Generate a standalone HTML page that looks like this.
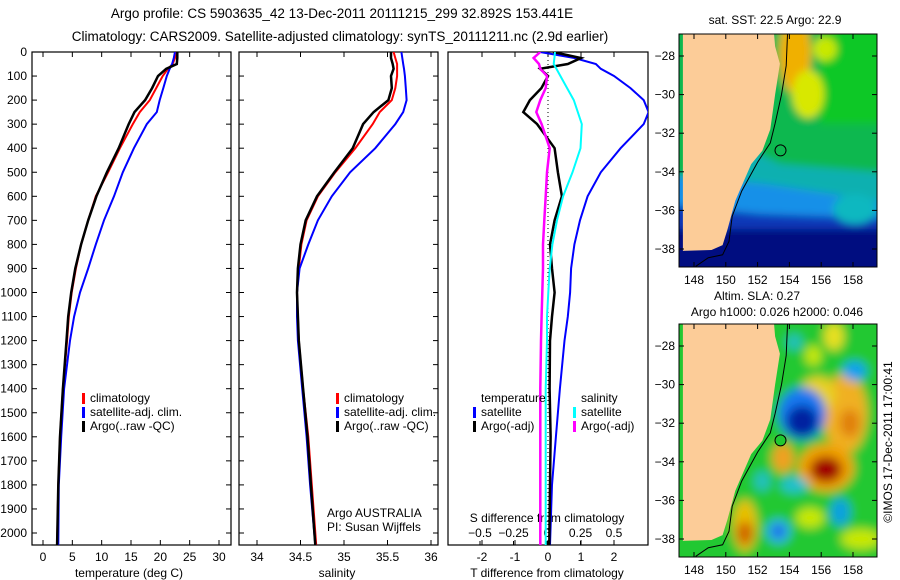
<!DOCTYPE html>
<html><head><meta charset="utf-8"><style>
html,body{margin:0;padding:0;background:#fff}
svg{display:block;font-family:"Liberation Sans",sans-serif}
text{font-size:12px;fill:#000}
</style></head><body>
<svg id="c" width="900" height="580" viewBox="0 0 900 580">
<defs>
<filter id="bl" x="-20%" y="-20%" width="140%" height="140%"><feGaussianBlur stdDeviation="5"/></filter>
<filter id="bl2" x="-20%" y="-20%" width="140%" height="140%"><feGaussianBlur stdDeviation="4"/></filter>
<clipPath id="m1"><rect x="679" y="34" width="198" height="233"/></clipPath>
<clipPath id="m2"><rect x="679" y="324" width="198" height="233"/></clipPath>
<clipPath id="p1"><rect x="32" y="52" width="199" height="493"/></clipPath>
<clipPath id="p2"><rect x="239" y="52" width="199" height="493"/></clipPath>
<clipPath id="p3"><rect x="448" y="52" width="200" height="493"/></clipPath>
</defs>
<text x="342" y="18" text-anchor="middle" style="font-size:13.5px">Argo profile: CS 5903635_42 13-Dec-2011 20111215_299 32.892S 153.441E</text>
<text x="340" y="41" text-anchor="middle" style="font-size:13.5px">Climatology: CARS2009. Satellite-adjusted climatology: synTS_20111211.nc (2.9d earlier)</text>
<g id="g"></g>
</svg>
<script>
const depths=[0,25,50,70,100,150,200,250,300,400,500,600,700,800,900,1000,1100,1200,1400,1600,1800,2050];
const tempClim=[22.7,22.5,22.1,21.3,20.4,19.3,18.2,16.5,15.3,13.1,11.1,9.0,7.7,6.5,5.6,4.9,4.4,4.1,3.4,2.9,2.6,2.4];
const tempSat=[22.5,22.3,22.0,21.6,21.1,20.5,19.9,19.4,17.7,15.5,13.6,12.1,10.4,9.0,7.7,6.3,5.3,4.6,3.6,3.1,2.7,2.6];
const tempArgo=[22.9,22.9,22.8,21.0,19.6,18.6,17.4,15.6,14.6,12.9,10.9,9.1,7.7,6.5,5.5,4.8,4.3,4.0,3.4,2.9,2.6,2.4];
const salClim=[35.57,35.59,35.61,35.61,35.61,35.59,35.55,35.41,35.33,35.13,34.90,34.70,34.57,34.51,34.48,34.46,34.47,34.48,34.53,34.59,34.63,34.68];
const salSat=[35.66,35.67,35.68,35.69,35.70,35.71,35.72,35.68,35.59,35.36,35.07,34.86,34.70,34.59,34.49,34.46,34.46,34.47,34.52,34.57,34.61,34.67];
const salArgo=[35.54,35.54,35.56,35.57,35.54,35.55,35.51,35.34,35.22,35.10,34.89,34.69,34.56,34.50,34.47,34.46,34.47,34.48,34.53,34.58,34.62,34.67];
const tDiffSat=[-0.24,0.8,1.45,1.6,2.0,2.5,2.9,3.05,2.9,2.2,1.6,1.2,0.97,0.8,0.7,0.67,0.6,0.5,0.36,0.24,0.12,0.06];
const tDiffArgo=[0.15,1.0,0.6,-0.24,0.0,-0.2,-0.55,-0.75,-0.33,0.2,0.3,0.42,0.2,0.06,0.12,0.2,0.12,0.06,0.05,0.08,0.06,0.04];
const sDiffSat=[0.06,0.055,0.05,0.07,0.1,0.15,0.2,0.23,0.26,0.25,0.19,0.12,0.075,0.04,0.02,0.01,0.0,0.0,-0.01,-0.01,-0.01,-0.01];
const sDiffArgo=[-0.05,-0.1,-0.06,-0.05,0.0,-0.01,-0.05,-0.08,-0.04,0.02,0.0,-0.01,-0.02,-0.03,-0.03,-0.035,-0.04,-0.045,-0.05,-0.05,-0.05,-0.05];
const depthTicks=[0,100,200,300,400,500,600,700,800,900,1000,1100,1200,1300,1400,1500,1600,1700,1800,1900,2000];
const tempTicks=[0,5,10,15,20,25,30];
const salTicks=[34,34.5,35,35.5,36];
const tdTicks=[-2,-1,0,1,2];
const sdTicks=[-0.5,-0.25,0,0.25,0.5];
const latTicks=[-28,-30,-32,-34,-36,-38];
const lonTicks=[148,150,152,154,156,158];

const NS='http://www.w3.org/2000/svg';
const G=document.getElementById('g');
function el(tag,attrs,parent){const e=document.createElementNS(NS,tag);for(const k in attrs)e.setAttribute(k,attrs[k]);(parent||G).appendChild(e);return e;}
function txt(x,y,s,anchor,parent,size){const t=el('text',{x:x,y:y,'text-anchor':anchor||'start'},parent);if(size)t.style.fontSize=size+'px';t.textContent=s;return t;}
const yD=d=>52+d*0.2405;
function lin(d0,d1,r0,r1){return v=>r0+(v-d0)/(d1-d0)*(r1-r0);}
const xT=lin(0,30,43,219), xS=lin(34,36,257,431), xTD=lin(0,1,548,581), xSD=lin(0,0.5,547,614);

function panel(x0,name){
  const f=el('rect',{x:x0,y:52,width:199,height:493,fill:'none',stroke:'#000','stroke-width':1.2});
  
  
  depthTicks.forEach(d=>{el('line',{x1:x0,x2:x0+5,y1:yD(d),y2:yD(d),stroke:'#000'});el('line',{x1:x0+199,x2:x0+194,y1:yD(d),y2:yD(d),stroke:'#000'});});
}
panel(32,'temperature-panel');panel(239,'salinity-panel');
const f3=el('rect',{x:448,y:52,width:200,height:493,fill:'none',stroke:'#000','stroke-width':1.2});


depthTicks.forEach(d=>{
  const t=txt(27,yD(d)+4,String(d),'end');
  
  
});
tempTicks.forEach(v=>{el('line',{x1:xT(v),x2:xT(v),y1:545,y2:540,stroke:'#000'});el('line',{x1:xT(v),x2:xT(v),y1:52,y2:57,stroke:'#000'});txt(xT(v),561,String(v),'middle');});
salTicks.forEach(v=>{el('line',{x1:xS(v),x2:xS(v),y1:545,y2:540,stroke:'#000'});el('line',{x1:xS(v),x2:xS(v),y1:52,y2:57,stroke:'#000'});txt(xS(v),561,String(v),'middle');});
tdTicks.forEach(v=>{el('line',{x1:xTD(v),x2:xTD(v),y1:545,y2:540,stroke:'#000'});el('line',{x1:xTD(v),x2:xTD(v),y1:52,y2:57,stroke:'#000'});txt(xTD(v),561,String(v),'middle');});
sdTicks.forEach(v=>{el('line',{x1:xSD(v),x2:xSD(v),y1:541,y2:545,stroke:'#000'});txt(xSD(v),537,String(v).replace('-','−'),'middle');});
let t;
t=txt(129,577,'temperature (deg C)','middle');
t=txt(337,577,'salinity','middle');
t=txt(547,577,'T difference from climatology','middle');
t=txt(547,522,'S difference from climatology','middle');
el('line',{x1:548,x2:548,y1:52,y2:545,stroke:'#000','stroke-dasharray':'1,3'});

function series(arr,xf,color,clip,name,w){
  const p=el('polyline',{points:arr.map((v,i)=>xf(v).toFixed(1)+','+yD(depths[i]).toFixed(1)).join(' '),fill:'none',stroke:color,'stroke-width':w||2,'clip-path':'url(#'+clip+')'});
  
  
}
series(tempClim,xT,'#f00','p1','temp-climatology-line');
series(tempSat,xT,'#00f','p1','temp-satellite-line');
series(tempArgo,xT,'#000','p1','temp-argo-line',2.5);
series(salClim,xS,'#f00','p2','sal-climatology-line');
series(salSat,xS,'#00f','p2','sal-satellite-line');
series(salArgo,xS,'#000','p2','sal-argo-line',2.5);
series(tDiffSat,xTD,'#00f','p3','t-diff-satellite-line');
series(tDiffArgo,xTD,'#000','p3','t-diff-argo-line',2.5);
series(sDiffSat,xSD,'#0ff','p3','s-diff-satellite-line');
series(sDiffArgo,xSD,'#f0f','p3','s-diff-argo-line',2.5);

function legend(x,y,items,name){
  items.forEach((it,i)=>{
    el('rect',{x:x,y:y+i*14-9,width:3,height:11,fill:it[1]});
    const tt=txt(x+8,y+i*14,it[0]);
    
    
  });
}
legend(82,402,[['climatology','#f00'],['satellite-adj. clim.','#00f'],['Argo(..raw -QC)','#000']],'temp-legend');
legend(336,402,[['climatology','#f00'],['satellite-adj. clim.','#00f'],['Argo(..raw -QC)','#000']],'sal-legend');
txt(481,402,'temperature');legend(473,416,[['satellite','#00f'],['Argo(-adj)','#000']],'tdiff-legend');
txt(581,402,'salinity');legend(573,416,[['satellite','#0ff'],['Argo(-adj)','#f0f']],'sdiff-legend');
txt(327,517,'Argo AUSTRALIA');txt(327,531,'PI: Susan Wijffels');

// maps
const mx=lon=>694+(lon-148)*15.9;
function map(top,clip,name,kind){
  const my=lat=>top+22+(-28-lat)*19.3;
  const g=el('g',{'clip-path':'url(#'+clip+')'});
  
  
  const fg=el('g',{filter:'url(#'+(kind==1?'bl2':'bl')+')'},g);
  if(kind==1){
    el('rect',{x:660,y:top-20,width:240,height:280,fill:'#10b850'},fg);
    el('rect',{x:820,y:top-20,width:80,height:110,fill:'#10c828'},fg);
    el('polygon',{points:`740,${top+110} 780,${top+130} 900,${top+140} 900,${top+280} 660,${top+280}`,fill:'#10b0b0'},fg);
    el('polygon',{points:`660,${top+140} 765,${top+150} 900,${top+170} 900,${top+280} 660,${top+280}`,fill:'#1890e8'},fg);
    el('polygon',{points:`660,${top+170} 760,${top+180} 900,${top+185} 900,${top+280} 660,${top+280}`,fill:'#0838b8'},fg);
    el('rect',{x:660,y:top+195,width:240,height:80,fill:'#000c80'},fg);
    el('ellipse',{cx:795,cy:top+20,rx:16,ry:40,fill:'#f0b000'},fg);
    el('ellipse',{cx:808,cy:top+60,rx:16,ry:24,fill:'#d8e800'},fg);
    el('ellipse',{cx:825,cy:top+15,rx:12,ry:12,fill:'#c8e800'},fg);
    el('ellipse',{cx:855,cy:top+175,rx:22,ry:15,fill:'#10b8c0'},fg);
  }else{
    el('rect',{x:660,y:top-20,width:240,height:280,fill:'#20c830'},fg);
    [[157.5,-31.5,22,40,'#f0b020'],[155.8,-30.5,18,18,'#e8d020'],[157.8,-32,10,14,'#e08010'],[154.8,-31.5,24,26,'#1878f0'],[154.8,-31.9,16,16,'#0020a0'],[156.3,-34.3,28,24,'#f0a000'],[156.3,-34.4,16,13,'#a00000'],[153.6,-33.8,11,15,'#f0a020'],[151.2,-37.3,12,26,'#e8c000'],[151.2,-37.7,8,12,'#d06000'],[153.3,-37.6,12,12,'#30b0f0'],[153.3,-37.6,6,6,'#0050e0'],[158.1,-29.3,12,10,'#10a0f0'],[157.2,-36.6,10,14,'#10a0e0'],[155.3,-36.9,14,10,'#c8e800'],[156.8,-27.5,10,14,'#e8e020'],[158.5,-38,20,10,'#c8e800'],[152.3,-35,8,10,'#20c0c0'],[154.3,-35.2,14,8,'#20c0d0'],[154.3,-27.8,8,8,'#20c0c0'],[155.5,-28.5,8,10,'#c8e800']].forEach(b=>el('ellipse',{cx:mx(b[0]),cy:my(b[1]),rx:b[2],ry:b[3],fill:b[4]},fg));
  }
  const coast=[[153.0,-26.5],[153.1,-27.5],[153.4,-28.4],[153.1,-30],[152.8,-31.8],[152.3,-32.9],[151.6,-33.6],[150.6,-35.5],[150.1,-37],[149.8,-37.8],[149.1,-38.05],[147.3,-38.1],[147.3,-26.5]];
  el('polygon',{points:coast.map(c=>mx(c[0]).toFixed(1)+','+my(c[1]).toFixed(1)).join(' '),fill:'#fccc98'},g);
  const cont=[[153.9,-26.5],[153.8,-28.5],[153.5,-30],[153.1,-31.5],[152.8,-32.5],[152.0,-33.5],[151.0,-35],[150.4,-36.3],[150.2,-37.6],[149.8,-38.3],[148.9,-38.45],[148.1,-38.9]];
  el('polyline',{points:cont.map(c=>mx(c[0]).toFixed(1)+','+my(c[1]).toFixed(1)).join(' '),fill:'none',stroke:'#000','stroke-width':1},g);
  const ci=el('circle',{cx:mx(153.441),cy:my(-32.892),r:5.5,fill:kind==1?'none':'#20c830',stroke:'#000','stroke-width':1});
  
  
  el('rect',{x:679,y:top,width:198,height:233,fill:'none',stroke:'#000'});
  latTicks.forEach(l=>{el('line',{x1:679,x2:684,y1:my(l),y2:my(l),stroke:'#000'});el('line',{x1:877,x2:872,y1:my(l),y2:my(l),stroke:'#000'});txt(675,my(l)+4,String(l).replace('-','−'),'end');});
  lonTicks.forEach(l=>{el('line',{x1:mx(l),x2:mx(l),y1:top+233,y2:top+228,stroke:'#000'});el('line',{x1:mx(l),x2:mx(l),y1:top,y2:top+5,stroke:'#000'});txt(mx(l),top+250,String(l),'middle');});
}
map(34,'m1','sst-map',1);
map(324,'m2','sla-map',2);
txt(775,24,'sat. SST: 22.5 Argo: 22.9','middle');
txt(757,300,'Altim. SLA: 0.27','middle');
txt(777,316,'Argo h1000: 0.026 h2000: 0.046','middle');
const im=el('text',{x:0,y:0,'text-anchor':'middle',transform:'translate(892,442) rotate(-90)'});
im.textContent='©IMOS 17-Dec-2011 17:00:41';


</script>
</body></html>
